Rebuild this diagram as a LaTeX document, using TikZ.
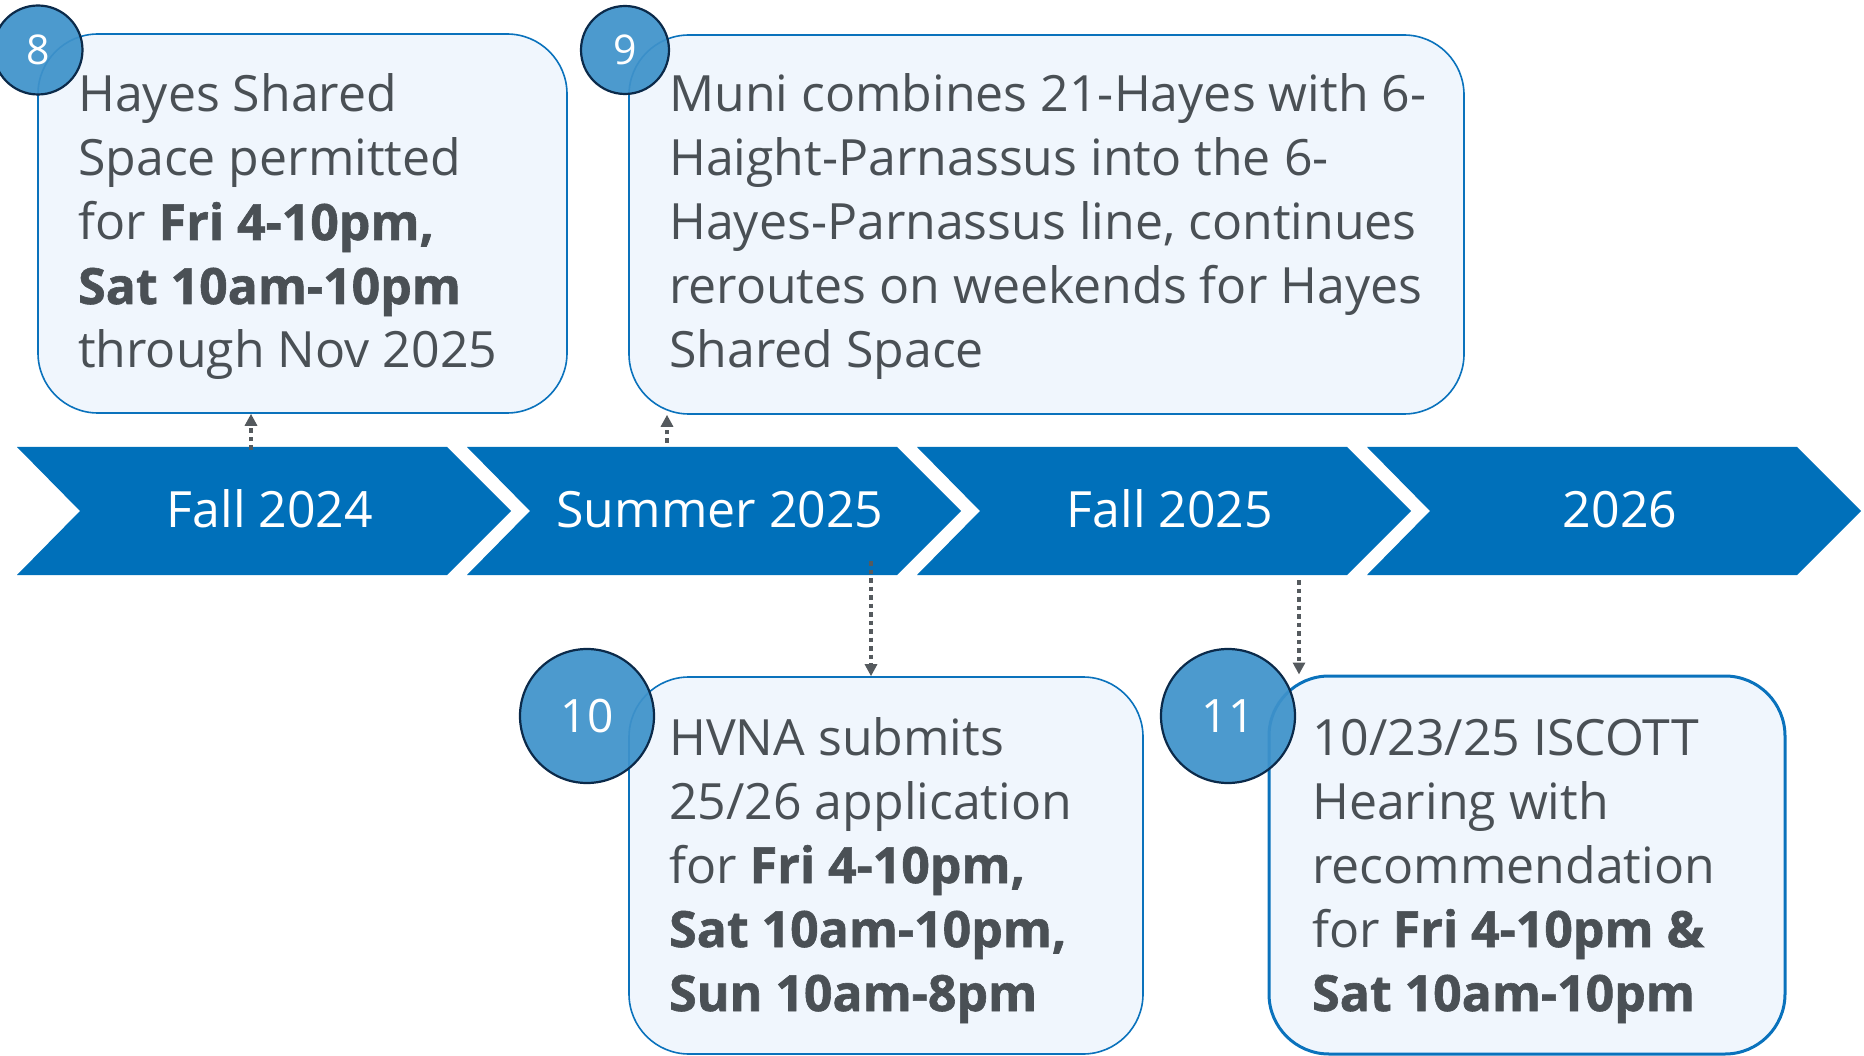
\documentclass[tikz,border=0pt]{standalone}
\usepackage{fontspec}
\setmainfont{Open Sans}[BoldFeatures={FakeBold=1.2}]
\usetikzlibrary{arrows.meta}
\definecolor{chev}{HTML}{0070BA}
\definecolor{boxfill}{HTML}{F0F6FD}
\definecolor{boxline}{HTML}{0A72BC}
\definecolor{circfill}{HTML}{3E92CA}
\definecolor{circline}{HTML}{0B2A4A}
\definecolor{txt}{HTML}{4A5055}
\definecolor{arr}{HTML}{555A5E}
\begin{document}
\begin{tikzpicture}[x=1pt,y=-1pt,
  chevtext/.style={text=white,font=\fontsize{50}{60}\selectfont,anchor=base,inner sep=0},
  evbox/.style={draw=boxline,line width=1.6pt,fill=boxfill,rounded corners=60pt,inner sep=0},
  evtext/.style={text=txt,font=\fontsize{50}{64}\selectfont,align=left,anchor=base west,inner sep=0},
  numc/.style={circle,fill=circfill,fill opacity=0.93,text opacity=1,draw=circline,line width=2.2pt,text=white,inner sep=0},
  conn/.style={draw=arr,line width=3.6pt,dash pattern=on 4.5pt off 4pt,-{Triangle[width=12pt,length=12pt]}}
]
\useasboundingbox (0,0) rectangle (1864,1056);
% chevrons
\foreach \i/\lab in {0/Fall 2024,1/Summer 2025,2/Fall 2025,3/2026} {
  \pgfmathsetmacro\xo{17+450*\i}
  \fill[chev] (\xo,447) -- ++(430,0) -- ++(64,64) -- ++(-64,64) -- ++(-430,0) -- ++(63,-64) -- cycle;
  \node[chevtext] (c\i) at (\xo+253,527) {\lab};
}
% boxes
\node[evbox,minimum width=529pt,minimum height=379pt] (b8) at (302.5,223.5) {};
\node[evbox,minimum width=835pt,minimum height=379pt] (b9) at (1046.5,224.5) {};
\node[evbox,minimum width=514pt,minimum height=377pt] (b10) at (886,865.5) {};
\node[evbox,line width=3pt,minimum width=516pt,minimum height=378pt] (b11) at (1527,865) {};
% texts (anchored at the baseline of the last line)
\node[evtext] (t8) at (78,368) {Hayes Shared\\Space permitted\\for \textbf{Fri 4-10pm,}\\\textbf{Sat 10am-10pm}\\through Nov 2025};
\node[evtext] (t9) at (669,368) {Muni combines 21-Hayes with 6-\\Haight-Parnassus into the 6-\\Hayes-Parnassus line, continues\\reroutes on weekends for Hayes\\Shared Space};
\node[evtext] (t10) at (669,1011) {HVNA submits\\25/26 application\\for \textbf{Fri 4-10pm,}\\\textbf{Sat 10am-10pm,}\\\textbf{Sun 10am-8pm}};
\node[evtext] (t11) at (1312,1011) {10/23/25 ISCOTT\\Hearing with\\recommendation\\for \textbf{Fri 4-10pm \&}\\\textbf{Sat 10am-10pm}};
% number circles
\node[numc,minimum size=89pt,font=\fontsize{41}{47}\selectfont] (n8) at (38,50) {8};
\node[numc,minimum size=88pt,font=\fontsize{41}{47}\selectfont] (n9) at (625,50) {9};
\node[numc,minimum size=134pt,font=\fontsize{46}{53}\selectfont] (n10) at (587,716) {10};
\node[numc,minimum size=134pt,font=\fontsize{46}{53}\selectfont] (n11) at (1228,716) {11};
% connectors
\coordinate (s8) at (251,450);
\coordinate (s9) at (667,443);
\coordinate (s10) at (871,561);
\coordinate (s11) at (1299,580);
\draw[conn] (s8) -- (s8 |- b8.south);
\draw[conn] (s9) -- (s9 |- b9.south);
\draw[conn] (s10) -- (s10 |- b10.north);
\draw[conn] (s11) -- (s11 |- b11.north);
\end{tikzpicture}
\end{document}
